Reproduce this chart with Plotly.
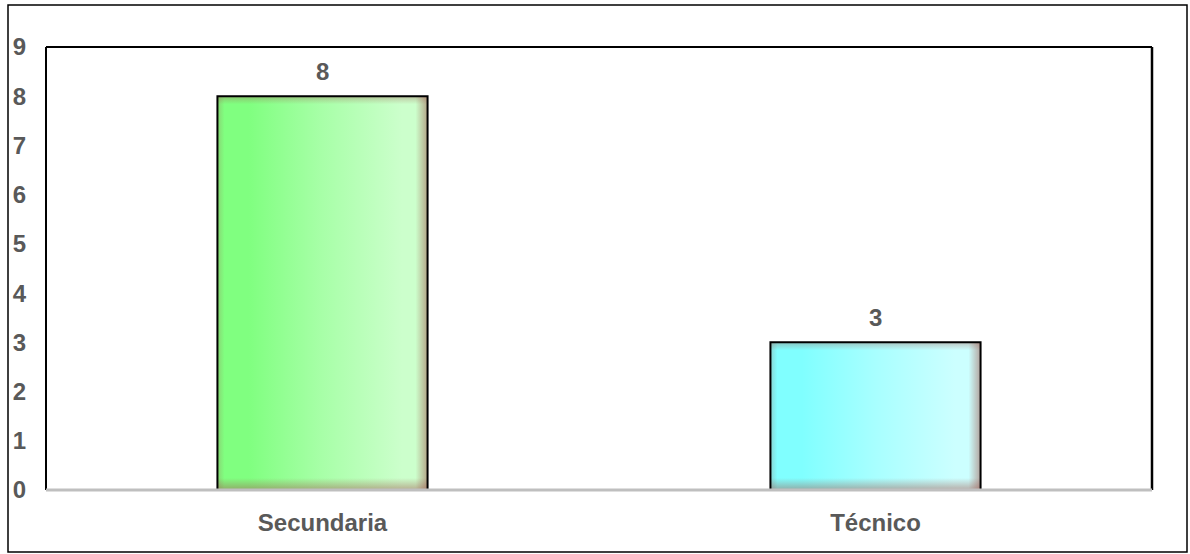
import plotly.graph_objects as go

categories = ["Secundaria", "Técnico"]
values = [8, 3]
grad_start = ["#80FF80", "#80FFFF"]
grad_mid = ["#A8FFA8", "#A8FFFF"]
grad_end = ["#CCFFCC", "#CCFFFF"]
y_ticks = list(range(0, 10))

W, H = 1190, 554
ml, mr, mt, mb = 46, 38, 47, 64
pw, ph = W - ml - mr, H - mt - mb
xr = [-0.5, 1.5]
yr = [0, 9]
bw = 0.38
pxx = (xr[1] - xr[0]) / pw   # data units per px (x)
pxy = (yr[1] - yr[0]) / ph   # data units per px (y)
txt = "#595959"
font = dict(family="Liberation Sans, Arial", size=24, color=txt, weight="bold")

fig = go.Figure()

# invisible bar trace (semantic/hover)
fig.add_trace(go.Bar(x=list(range(len(categories))), y=values, width=bw,
                     marker=dict(color="rgba(0,0,0,0)", line=dict(width=0)),
                     hoverinfo="skip", showlegend=False))

def rect(x0, x1, y0, y1):
    return [x0, x1, x1, x0, x0], [y0, y0, y1, y1, y0]

shadow = "160,90,80"
for i, v in enumerate(values):
    x0, x1 = i - bw / 2, i + bw / 2
    xs, ys = rect(x0, x1, 0, v)
    fig.add_trace(go.Scatter(x=xs, y=ys, mode="lines", line=dict(width=0),
                             fill="toself",
                             fillgradient=dict(type="horizontal",
                                               colorscale=[[0, grad_start[i]], [0.15, grad_start[i]],
                                                           [0.5, grad_mid[i]], [0.88, grad_end[i]],
                                                           [1, grad_end[i]]]),
                             hoverinfo="skip", showlegend=False))
    # edge glow strips
    ew_r, ew_l, ew_t, ew_b = 12 * pxx, 7 * pxx, 8 * pxy, 12 * pxy
    strips = [
        (rect(x1 - ew_r, x1, 0, v), "horizontal", [[0, f"rgba({shadow},0)"], [1, f"rgba({shadow},0.55)"]]),
        (rect(x0, x0 + ew_l, 0, v), "horizontal", [[0, f"rgba({shadow},0.25)"], [1, f"rgba({shadow},0)"]]),
        (rect(x0, x1, v - ew_t, v), "vertical", [[0, f"rgba({shadow},0)"], [1, f"rgba({shadow},0.35)"]]),
        (rect(x0, x1, 0, ew_b), "vertical", [[0, f"rgba({shadow},0.5)"], [1, f"rgba({shadow},0)"]]),
    ]
    for (sx, sy), typ, cs in strips:
        fig.add_trace(go.Scatter(x=sx, y=sy, mode="lines", line=dict(width=0), fill="toself",
                                 fillgradient=dict(type=typ, colorscale=cs),
                                 hoverinfo="skip", showlegend=False))
    # outline
    fig.add_trace(go.Scatter(x=xs, y=ys, mode="lines", line=dict(color="black", width=2),
                             hoverinfo="skip", showlegend=False))
    fig.add_annotation(x=i, y=v, text=str(v), showarrow=False, yanchor="bottom",
                       yshift=9, font=font)

# inner plot border (left, top, right black), bottom axis grey
fig.add_shape(type="line", xref="paper", yref="paper", x0=0, x1=0, y0=0, y1=1,
              line=dict(color="black", width=2))
fig.add_shape(type="line", xref="paper", yref="paper", x0=0, x1=1, y0=1, y1=1,
              line=dict(color="black", width=2))
fig.add_shape(type="line", xref="paper", yref="paper", x0=1, x1=1, y0=0, y1=1,
              line=dict(color="black", width=2.5))
fig.add_shape(type="line", xref="paper", yref="paper", x0=0, x1=1, y0=0, y1=0,
              line=dict(color="#BFBFBF", width=3), layer="above")

# outer border
def px2paper_x(p):
    return (p - ml) / pw

def px2paper_y(p):
    return (H - mb - p) / ph

fig.add_shape(type="rect", xref="paper", yref="paper",
              x0=px2paper_x(8), x1=px2paper_x(1187), y0=px2paper_y(552), y1=px2paper_y(5),
              line=dict(color="black", width=1.5))

fig.update_layout(
    width=W, height=H,
    margin=dict(l=ml, r=mr, t=mt, b=mb),
    plot_bgcolor="white", paper_bgcolor="white",
    showlegend=False,
    xaxis=dict(range=xr, tickvals=list(range(len(categories))), ticktext=categories,
               showgrid=False, zeroline=False, showline=False, ticks="",
               tickfont=font, ticklabelstandoff=16, fixedrange=True),
    yaxis=dict(range=yr, tickvals=y_ticks, showgrid=False, zeroline=False,
               showline=False, ticks="", tickfont=font, ticklabelstandoff=19,
               fixedrange=True),
)

fig.write_html("out.html")
